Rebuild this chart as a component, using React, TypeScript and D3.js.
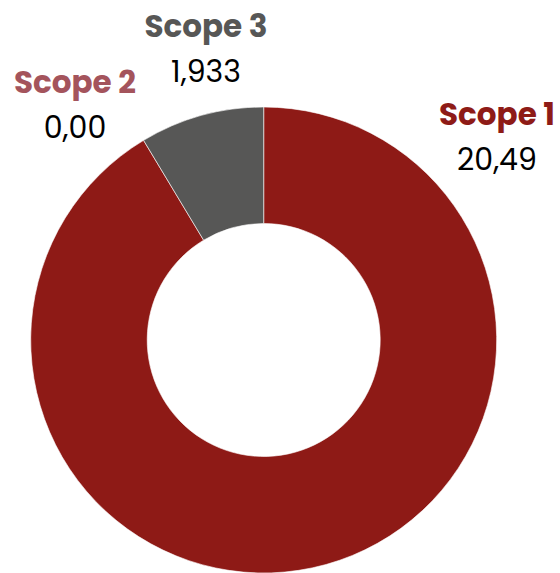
import React from "react";
import * as d3 from "d3";

const categories = ["Scope 1", "Scope 2", "Scope 3"];
const values = [20.49, 0.0, 1.933];
const valueLabels = ["20,49", "0,00", "1,933"];
const sliceColors = ["#8E1A16", "#A0525A", "#575756"];
const labelColors = ["#8E1B17", "#A4545C", "#575756"];

// label anchor points (layout only)
const labelAnchors: Record<string, [number, number]> = {
  "Scope 1": [497, 125],
  "Scope 2": [75, 93],
  "Scope 3": [206, 37],
};

const W = 560;
const H = 573;
const cx = 263.7;
const cy = 340;
const outerR = 233;
const innerR = 116.5;

export default function App() {
  const data = categories.map((c, i) => ({ name: c, value: values[i], label: valueLabels[i], i }));
  const pie = d3
    .pie<any>()
    .sort(null)
    .value((d) => d.value);
  const arcs = pie(data);
  const arc = d3.arc<any>().innerRadius(innerR).outerRadius(outerR);
  const fontFamily = "Poppins, 'Open Sans', sans-serif";
  return (
    <svg
      width={W}
      height={H}
      style={{ position: "absolute", left: 0, top: 0 }}
      viewBox={`0 0 ${W} ${H}`}
    >
      <g transform={`translate(${cx},${cy})`}>
        {arcs.map((a) => (
          <path
            key={a.data.name}
            d={arc(a) || ""}
            fill={sliceColors[a.data.i]}
            stroke="#ffffff"
            strokeWidth={a.data.value > 0 ? 0.6 : 0}
          />
        ))}
      </g>
      {data.map((d) => {
        const [x, y] = labelAnchors[d.name];
        return (
          <g key={d.name} fontFamily={fontFamily} textAnchor="middle">
            <text x={x} y={y} fontSize={31} fontWeight={700} fill={labelColors[d.i]}>
              {d.name}
            </text>
            <text x={x} y={y + 44.5} fontSize={30} fontWeight={400} fill="#000000">
              {d.label}
            </text>
          </g>
        );
      })}
    </svg>
  );
}
